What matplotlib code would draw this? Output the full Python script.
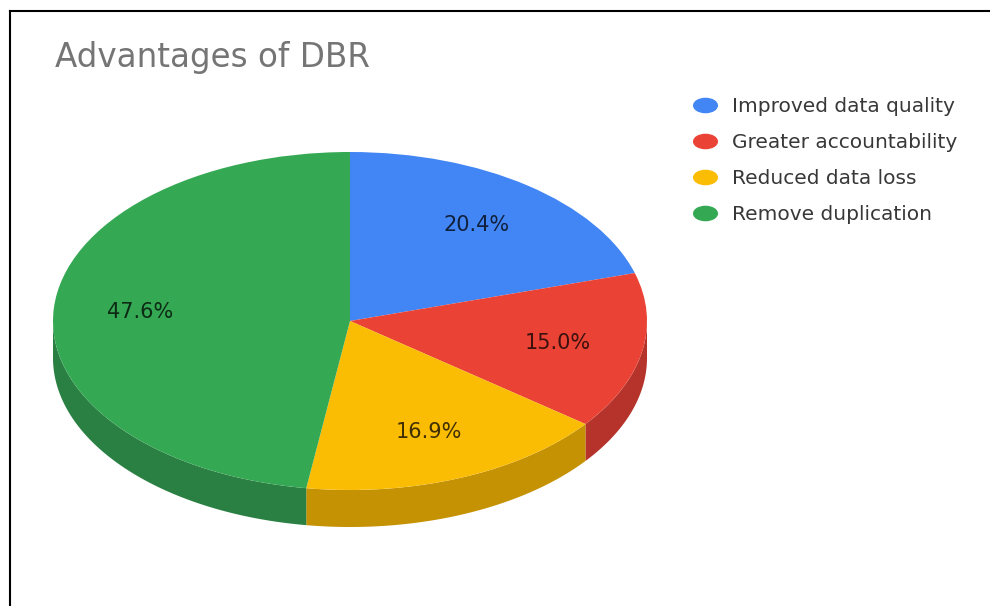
import numpy as np
import matplotlib
matplotlib.use("Agg")
import matplotlib.pyplot as plt
from matplotlib.lines import Line2D
from matplotlib.path import Path
from matplotlib.transforms import Affine2D

# Data
TITLE = "Advantages of DBR"
categories = ["Improved data quality", "Greater accountability", "Reduced data loss", "Remove duplication"]
shares = [20.4, 15.0, 16.9, 47.6]
top_colours = ["#4285F4", "#EA4335", "#FBBC04", "#34A853"]
side_colours = ["#3266BC", "#B5332A", "#C49203", "#2A8042"]

# Figure geometry (pixels)
W, H = 990, 606
DPI = 100
CX, CY = 350, 321      # top face centre
RX, RY = 297, 169      # top face radii
DEPTH = 37             # thickness of the pie

fig = plt.figure(figsize=(W / DPI, H / DPI), dpi=DPI)
fig.patch.set_facecolor("white")

# Axes laid over the ellipse bounding box (incl. side wall)
d = DEPTH / RY
left = (CX - RX) / W
bottom = (H - (CY + RY + DEPTH)) / H
ax = fig.add_axes([left, bottom, 2 * RX / W, (2 * RY + DEPTH) / H])

# Top face
wedges, texts, autotexts = ax.pie(
    shares, colors=top_colours, startangle=90, counterclock=False,
    autopct="%1.1f%%", pctdistance=0.71, radius=1,
    wedgeprops=dict(linewidth=0, antialiased=True),
    textprops=dict(fontsize=15, color="black", alpha=0.75))
for w in wedges:
    w.set_zorder(2)
for t in autotexts:
    t.set_zorder(3)

# Side wall for the front half of the pie
edges = np.concatenate([[0], np.cumsum(shares)]) / np.sum(shares) * 360
for i in range(len(shares)):
    t0 = max(edges[i], 90)
    t1 = min(edges[i + 1], 270)
    if t0 >= t1:
        continue
    t = np.radians(np.linspace(t0, t1, 80))
    xs = np.sin(t)
    ys = np.cos(t)
    ax.fill(np.concatenate([xs, xs[::-1]]), np.concatenate([ys, ys[::-1] - d]),
            color=side_colours[i], linewidth=0, zorder=1)

ax.set_aspect("auto")
ax.set_xlim(-1, 1)
ax.set_ylim(-1 - d, 1)
ax.axis("off")

# Title
fig.text(55 / W, 1 - 67 / H, TITLE, fontsize=23.5, color="#757575", va="baseline", ha="left")

# Legend with flattened dot markers
dot = Path.unit_circle().transformed(Affine2D().scale(1.0, 0.6))
handles = [Line2D([], [], linestyle="none", marker=dot, markersize=17,
                  markerfacecolor=c, markeredgecolor=c) for c in top_colours]
fig.legend(handles, categories, loc="upper left", bbox_to_anchor=(695 / W, 1 - 97 / H),
           frameon=False, fontsize=14.5, handlelength=1.0, handletextpad=0.86,
           labelspacing=0.84, borderpad=0, borderaxespad=0, labelcolor="#383838")

# Frame lines (top and left)
fig.add_artist(Line2D([10 / W, 1], [1 - 11 / H, 1 - 11 / H], transform=fig.transFigure,
                      color="black", linewidth=1.5))
fig.add_artist(Line2D([10 / W, 10 / W], [0, 1 - 11 / H], transform=fig.transFigure,
                      color="black", linewidth=1.5))

fig.savefig("out.png", dpi=DPI)
